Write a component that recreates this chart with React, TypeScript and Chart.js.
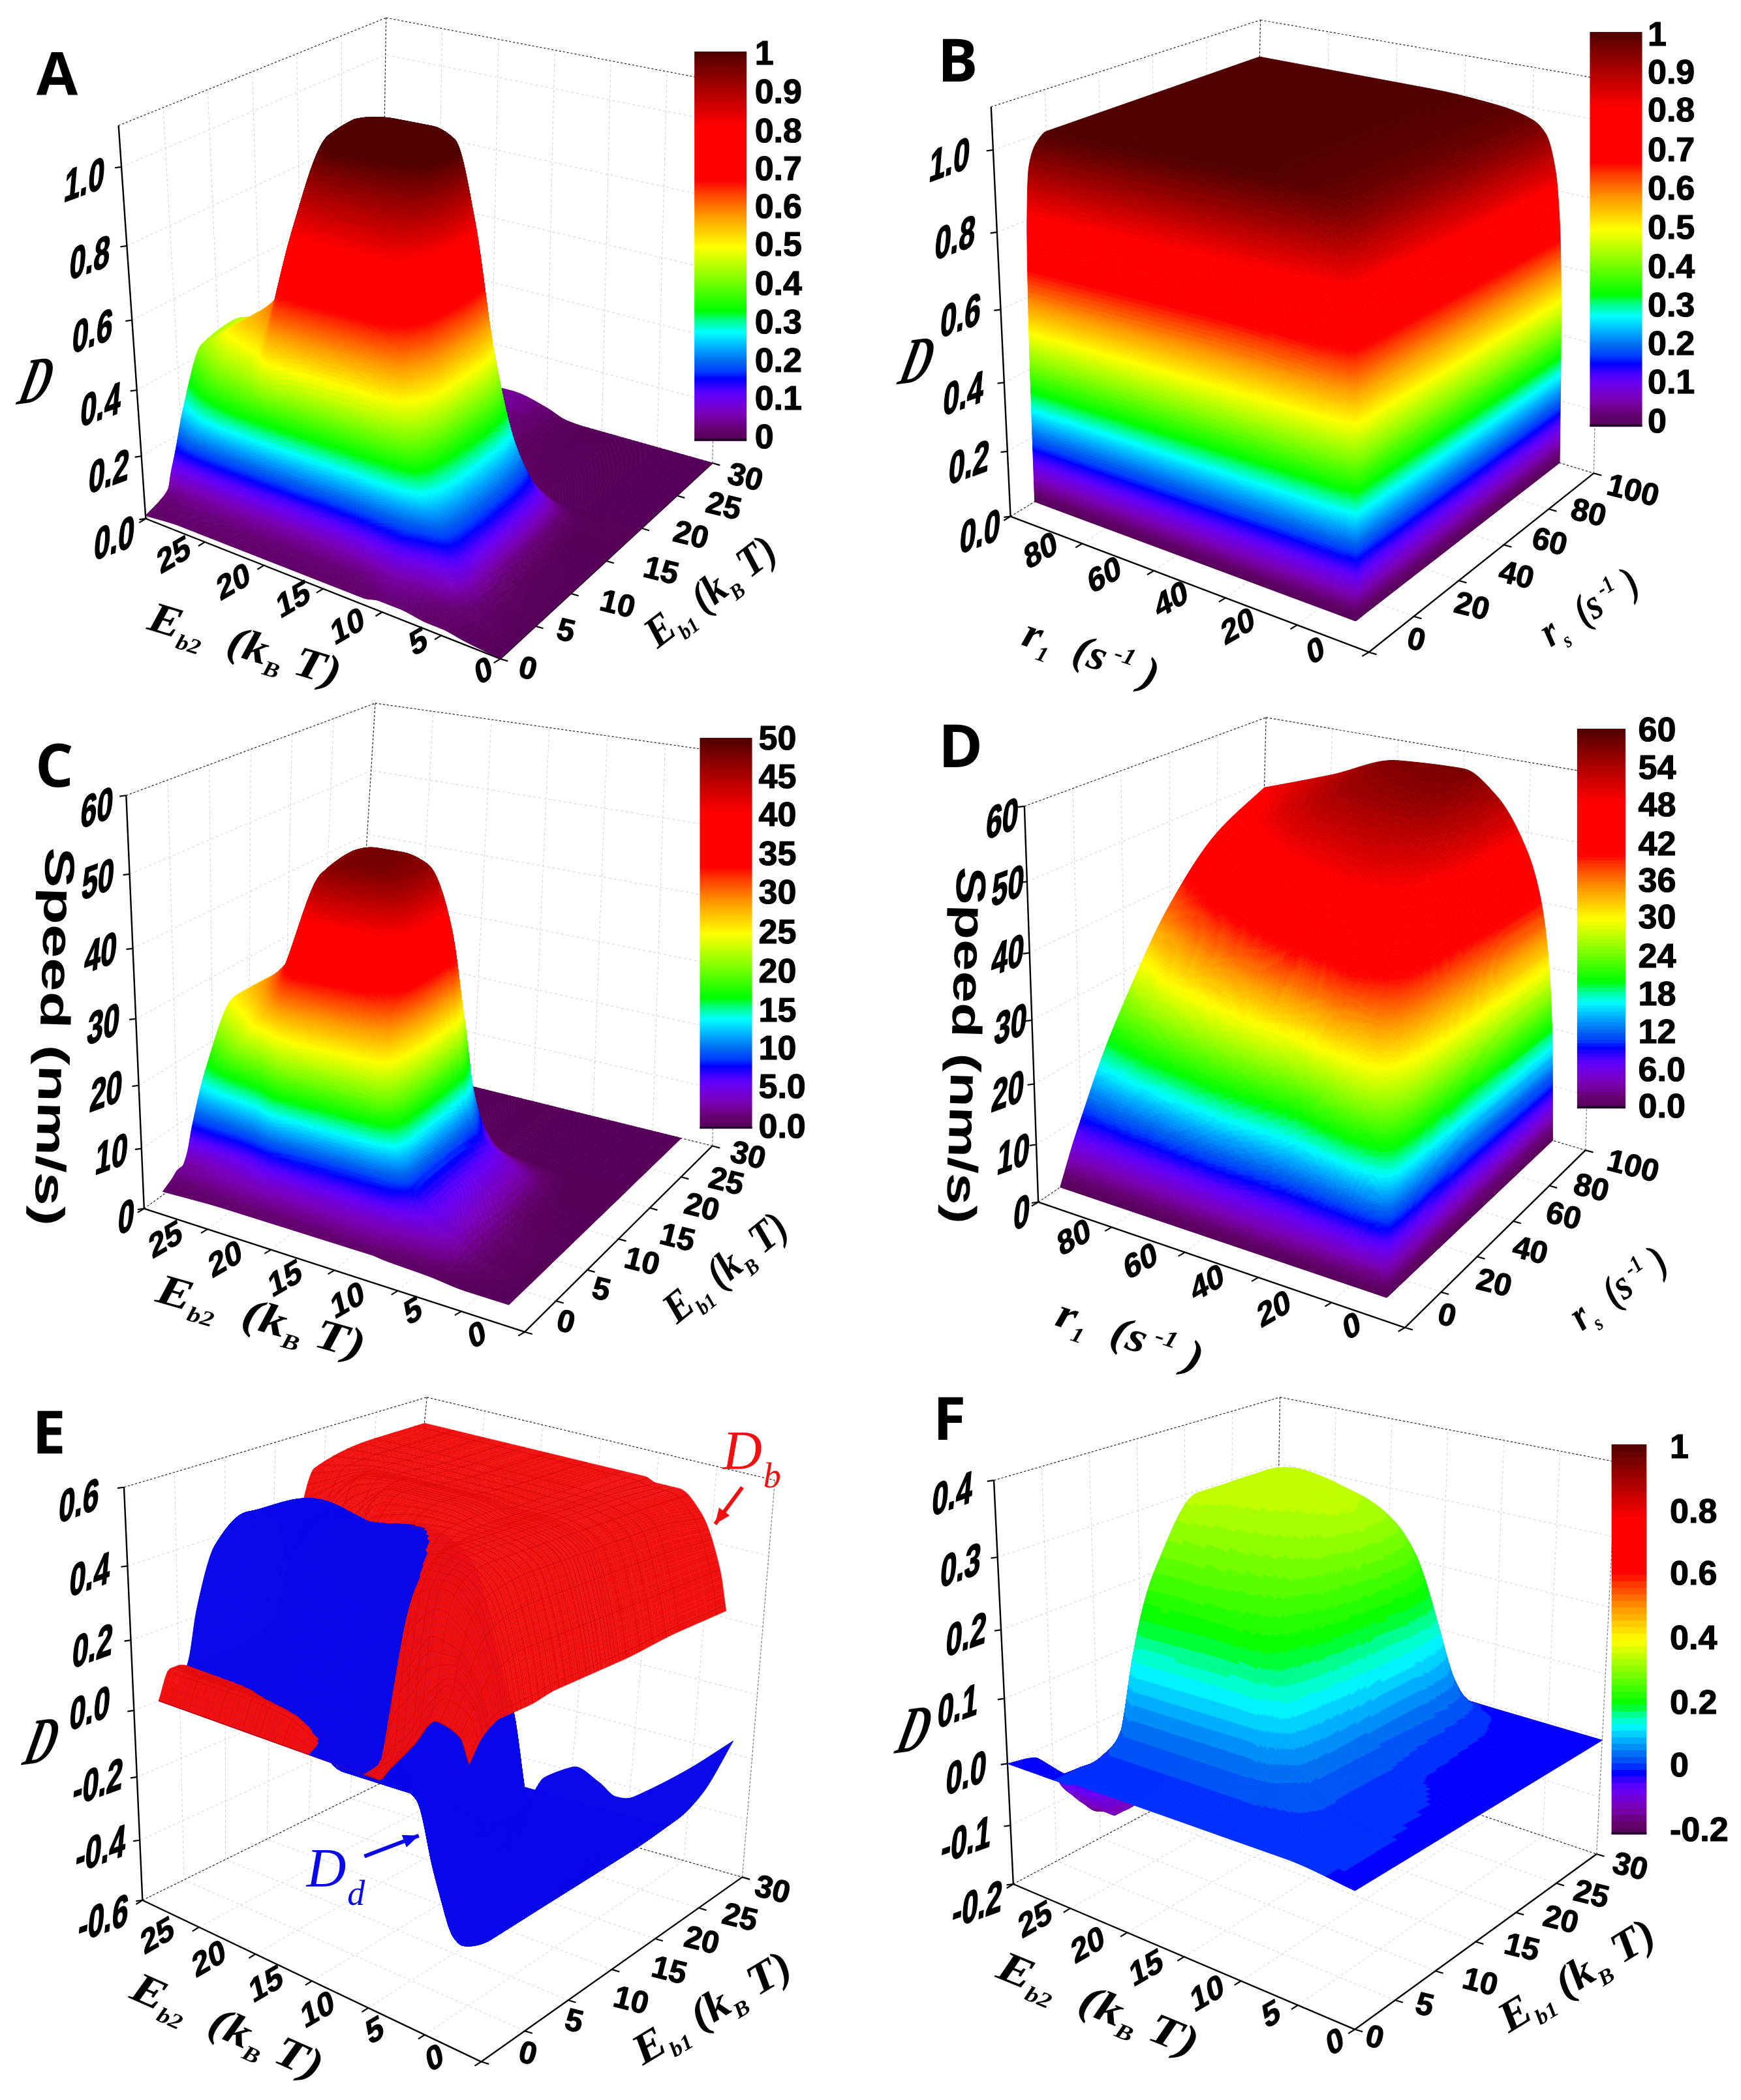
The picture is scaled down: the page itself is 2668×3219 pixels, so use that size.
import React, { useEffect, useRef } from "react";
import { Chart, registerables } from "chart.js";
Chart.register(...registerables);

// ---------- data ----------
const A_E1 = [0, 2, 3, 3.4, 4.1, 5.5, 8, 12, 15, 17, 20, 30];
const A_E2 = [0, 3, 5, 6, 8.6, 10.2, 11.6, 13.2, 15, 18, 21.5, 23.5, 27, 30];
const A_D = [
  [0, 0, 0, 0, 0, 0, 0, 0, 0, 0, 0, 0],
  [.01, .015, .02, .02, .02, .015, .01, .005, 0, 0, 0, 0],
  [.02, .03, .04, .05, .06, .06, .05, .04, .03, .02, 0, 0],
  [.02, .035, .07, .09, .12, .13, .13, .12, .10, .06, .005, 0],
  [.03, .05, .1, .15, .25, .3, .33, .34, .30, .15, .01, 0],
  [.03, .06, .14, .2, .38, .5, .6, .62, .55, .28, .015, 0],
  [.02, .05, .12, .19, .44, .62, .76, .88, .85, .42, .02, 0],
  [.02, .04, .1, .17, .46, .66, .86, 1.0, 1.03, .65, .02, .005],
  [.02, .04, .08, .15, .46, .67, .87, 1.03, 1.05, .68, .02, .03],
  [.02, .04, .07, .14, .46, .67, .87, 1.04, 1.05, .66, .02, .055],
  [.02, .04, .07, .14, .44, .65, .85, 1.02, 1.03, .55, .02, .05],
  [.02, .04, .07, .13, .38, .5, .62, .68, .65, .35, .03, .04],
  [.02, .04, .06, .11, .28, .42, .52, .5, .42, .25, .05, .04],
  [.01, .03, .05, .09, .15, .28, .43, .45, .38, .2, .05, .04],
];

const B_R1 = [10, 10.3, 10.7, 11.5, 13, 16, 20, 30, 50, 100];
const B_RS = [10, 10.3, 10.7, 11.5, 13, 16, 20, 30, 50, 100];
const B_D = [
  [0, 0, 0, 0, 0, 0, 0, 0, 0, 0],
  [0, .13, .21, .28, .33, .34, .35, .35, .35, .35],
  [0, .21, .33, .44, .51, .54, .55, .55, .55, .55],
  [0, .27, .43, .58, .67, .71, .72, .72, .72, .72],
  [0, .32, .51, .68, .79, .83, .85, .85, .85, .85],
  [0, .36, .56, .75, .87, .92, .94, .94, .94, .94],
  [0, .37, .58, .78, .9, .95, .97, .97, .97, .97],
  [0, .38, .59, .79, .92, .97, .99, .99, .99, .99],
  [0, .38, .6, .8, .93, .98, 1, 1, 1, 1],
  [0, .38, .6, .8, .93, .98, 1, 1, 1, 1],
];

const C_E1 = [2.7, 4, 5, 5.5, 6.2, 7, 9, 13, 17, 19.5, 22, 30];
const C_E2 = [2.6, 6, 9, 12.5, 13.5, 14.5, 15.3, 17, 19, 21, 23, 25, 30];
const C_V = [
  [0, 0, 0, 0, 0, 0, 0, 0, 0, 0, 0, 0],
  [0, .5, .8, 1, 1, 1, 1, .5, .2, 0, 0, 0],
  [.5, 2, 3, 3.5, 3.8, 4, 4, 3.5, 3, 1.5, 0, 0],
  [.8, 2.5, 4, 5.5, 7, 8.5, 9, 9, 8, 4, .3, 0],
  [1, 2.8, 4.5, 6.5, 8.5, 13, 15, 15, 13, 7, .4, 0],
  [1, 2.8, 4.5, 6.5, 9, 18, 24, 28, 26, 14, .5, 0],
  [1, 2.8, 4.5, 6.5, 9, 20, 30, 40, 40, 25, .6, 0],
  [1, 2.8, 4.5, 6.5, 9, 20, 33, 47, 47, 32, .6, 0],
  [1, 2.5, 4.3, 6.3, 9, 20, 34, 48, 48, 33, .5, 0],
  [1, 2.5, 4, 6, 9, 20, 34, 48, 48, 32, .5, 0],
  [1, 2.5, 4, 5.8, 8.5, 19, 33, 46, 47, 28, .5, 0],
  [1, 2.2, 3.6, 4.5, 6, 12, 28, 34, 33, 18, .5, 0],
  [.6, 1.6, 2.5, 2.5, 4, 8, 16, 25, 25, 9, .4, 0],
];

const D_R1 = [10, 11, 13, 16, 20, 30, 40, 60, 80, 100];
const D_RS = [10, 11, 13, 16, 20, 30, 40, 60, 80, 100];
const D_V = [
  [0, 0, 0, 0, 0, 0, 0, 0, 0, 0],
  [0, 5, 10, 13, 15, 17, 17.5, 18, 18, 18],
  [0, 6, 13, 18, 22, 27, 29, 31, 32, 32],
  [0, 6, 13, 20, 26, 34, 37, 39, 41, 41],
  [0, 5, 12, 20, 28, 38, 43, 46, 47, 47],
  [0, 4, 9, 16, 24, 40, 46, 51, 54, 54.5],
  [0, 3.5, 7, 13, 19, 36, 46, 52, 56, 57.5],
  [0, 2.5, 6, 11, 17, 30, 40, 50, 55, 57],
  [0, 1.5, 4, 8, 13, 24, 33, 45, 51, 53],
  [0, 1, 3, 6, 9.5, 18, 25, 37, 45, 49],
];

const E_A = [2.7, 4, 5, 6, 7, 9, 12, 15, 17, 19, 25, 30];
const EB_B = [3.2, 4, 6, 8, 10, 11, 12, 13, 15, 20, 24, 30];
const EB_V = [
  [.12, .17, .19, .2, .2, .2, .21, .21, .21, .21, .22, .22],
  [.18, .23, .27, .3, .31, .33, .33, .33, .33, .33, .33, .33],
  [.2, .26, .36, .43, .46, .48, .49, .49, .49, .49, .49, .47],
  [.12, .18, .38, .47, .5, .52, .52, .52, .52, .52, .52, .52],
  [.04, .08, .3, .45, .5, .53, .53, .53, .53, .53, .53, .52],
  [0, .05, .25, .4, .46, .5, .53, .53, .53, .53, .53, .53],
  [0, .01, .12, .25, .35, .45, .53, .53, .53, .53, .53, .53],
  [0, 0, .05, .1, .2, .42, .53, .54, .54, .53, .53, .53],
  [0, 0, .05, .06, .12, .3, .52, .55, .55, .54, .53, .53],
  [0, .07, .07, .07, .08, .15, .45, .55, .55, .54, .53, .53],
  [0, .08, .08, .07, .07, .08, .15, .42, .54, .54, .53, .53],
  [0, .08, .08, .07, .07, .07, .08, .1, .3, .5, .53, .53],
];
const ED_B = [1.7, 4, 6, 7, 8, 9, 11, 13, 15, 20, 24, 30];
const ED_V = [
  [0, -.02, -.03, -.03, -.02, .03, .02, -.06, -.13, -.16, -.17, -.16],
  [0, -.05, -.12, -.18, -.2, -.2, -.22, -.28, -.32, -.35, -.36, -.36],
  [0, -.1, -.28, -.42, -.46, -.48, -.48, -.48, -.48, -.48, -.48, -.47],
  [0, -.1, -.3, -.44, -.48, -.5, -.5, -.5, -.5, -.5, -.5, -.5],
  [0, -.08, -.25, -.35, -.4, -.45, -.48, -.48, -.5, -.5, -.5, -.5],
  [0, -.03, -.1, -.15, -.2, -.25, -.3, -.35, -.45, -.5, -.5, -.5],
  [0, 0, .05, .1, .12, .15, .15, .12, .05, -.25, -.5, -.5],
  [0, .01, .2, .35, .4, .45, .5, .42, .2, -.2, -.5, -.5],
  [0, .03, .3, .42, .48, .52, .52, .44, .25, -.2, -.5, -.5],
  [0, .03, .25, .4, .48, .53, .5, .44, .25, -.2, -.5, -.5],
  [0, .03, .08, .2, .33, .46, .52, .45, .25, -.2, -.5, -.5],
  [0, .02, .03, .08, .22, .38, .44, .4, .2, -.2, -.5, -.5],
];

const F_E1 = [0, 3, 5, 6, 7, 8, 10, 14, 18, 21, 25, 27.5, 29, 30];
const F_E2 = [0, 6, 8, 10, 11, 12, 14, 18, 22, 24, 25, 26, 27, 30];
const F_D = [
  [-.005, -.005, -.005, -.005, -.005, -.005, -.005, -.005, -.005, -.005, -.005, -.005, -.005, -.005],
  [.005, .008, .01, .012, .012, .01, .008, .005, -.002, -.003, -.005, -.005, -.005, -.005],
  [.005, .01, .018, .02, .022, .022, .022, .022, .015, .01, .005, -.002, -.005, -.005],
  [.005, .01, .022, .03, .035, .045, .05, .05, .05, .05, .04, .02, -.002, -.005],
  [.005, .01, .025, .035, .045, .08, .1, .12, .14, .14, .1, .03, .005, -.005],
  [.005, .012, .028, .04, .07, .15, .18, .24, .28, .27, .18, .06, .008, -.005],
  [.005, .012, .03, .045, .1, .2, .25, .31, .34, .33, .26, .09, .01, -.005],
  [.005, .012, .03, .045, .1, .21, .27, .33, .35, .35, .3, .12, .01, -.005],
  [.005, .012, .03, .045, .1, .21, .28, .34, .36, .36, .32, .13, .01, -.005],
  [.005, .012, .03, .045, .1, .21, .28, .35, .35, .35, .3, .11, .01, -.005],
  [0, .005, .02, .03, .06, .15, .2, .26, .26, .22, .14, .05, .005, -.005],
  [0, 0, -.005, -.005, 0, .02, .03, .04, .04, .03, .02, .01, 0, -.005],
  [0, -.02, -.06, -.08, -.1, -.12, -.12, -.1, -.08, -.07, -.05, -.03, -.01, -.005],
  [0, -.01, -.05, -.08, -.1, -.12, -.15, -.14, -.1, -.09, -.07, -.04, -.01, -.005],
];

const E_TICKS_A = [0, 5, 10, 15, 20, 25, 30];
const R_TICKS = [0, 20, 40, 60, 80, 100];

// ---------- colours ----------
const CMAP: [number, string][] = [
  [0, "#560058"], [.03, "#660070"], [.07, "#7c00b8"], [.11, "#6a00f0"], [.13, "#5000ff"], [.16, "#0000ff"], [.18, "#0040ff"],
  [.2, "#0060f0"], [.24, "#00aaff"], [.28, "#00ffff"], [.31, "#00ff88"], [.335, "#00ff00"], [.42, "#88ff00"],
  [.5, "#ffff00"], [.58, "#ff9900"], [.645, "#ff3300"], [.67, "#ff0000"], [.81, "#ff0000"], [.88, "#c00000"],
  [.95, "#800000"], [1, "#500000"],
];
const hex = (s: string) => [1, 3, 5].map((i) => parseInt(s.slice(i, i + 2), 16));
function makeLut(levels: number) {
  const out: string[] = [];
  for (let i = 0; i < levels; i++) {
    const t = (i + .5) / levels;
    let k = 0;
    while (k < CMAP.length - 2 && CMAP[k + 1][0] < t) k++;
    const f = (t - CMAP[k][0]) / (CMAP[k + 1][0] - CMAP[k][0]);
    const a = hex(CMAP[k][1]), b = hex(CMAP[k + 1][1]);
    out.push(`rgb(${a.map((v, n) => Math.round(v + (b[n] - v) * f)).join(",")})`);
  }
  return out;
}

// ---------- smooth shading between table nodes ----------
function pchip(xs: number[], ys: number[]) {
  const n = xs.length;
  const h: number[] = [], d: number[] = [];
  for (let i = 0; i < n - 1; i++) { h.push(xs[i + 1] - xs[i]); d.push((ys[i + 1] - ys[i]) / h[i]); }
  const m = new Array(n).fill(0);
  m[0] = d[0]; m[n - 1] = d[n - 2];
  for (let i = 1; i < n - 1; i++) {
    if (d[i - 1] * d[i] > 0) {
      const w1 = 2 * h[i] + h[i - 1], w2 = h[i] + 2 * h[i - 1];
      m[i] = (w1 + w2) / (w1 / d[i - 1] + w2 / d[i]);
    }
  }
  return (x: number) => {
    let i = 0;
    while (i < n - 2 && xs[i + 1] < x) i++;
    const t = (x - xs[i]) / h[i], t2 = t * t, t3 = t2 * t;
    return (2 * t3 - 3 * t2 + 1) * ys[i] + (t3 - 2 * t2 + t) * h[i] * m[i] + (-2 * t3 + 3 * t2) * ys[i + 1] + (t3 - t2) * h[i] * m[i + 1];
  };
}
// finer shading steps where the table climbs fast
function refine(g: number[], jump: (i: number) => number, gain: number, lo: number, hi: number) {
  const o: number[] = [];
  for (let i = 0; i < g.length - 1; i++) {
    const m = Math.max(lo, Math.min(hi, Math.ceil(jump(i) * gain)));
    for (let k = 0; k < m; k++) o.push(g[i] + (g[i + 1] - g[i]) * k / m);
  }
  o.push(g[g.length - 1]);
  return o;
}
function sample(ga: number[], gb: number[], tab: number[][], fa: number[], fb: number[]) {
  const rows = tab.map((r) => { const f = pchip(ga, r); return fa.map(f); });
  const cols = fa.map((_, i) => { const f = pchip(gb, rows.map((r) => r[i])); return fb.map(f); });
  return cols; // cols[ia][ib]
}

// ---------- panels (positions are in each panel's own 1560 x 1568 scale space) ----------
type Pt = [number, number];
type Panel = any;
const EB1 = [{ t: "E", s: 1 }, { t: "b1", s: .5, sub: 1 }, { t: " (", s: 1 }, { t: "k", s: 1 }, { t: "B", s: .5, sub: 1 }, { t: " T", s: 1 }, { t: ")", s: 1 }];
const EB2 = [{ t: "E", s: 1 }, { t: "b2", s: .5, sub: 1 }, { t: "  (", s: 1 }, { t: "k", s: 1 }, { t: "B", s: .5, sub: 1 }, { t: " T", s: 1 }, { t: ")", s: 1 }];
const R1T = [{ t: "r", s: 1 }, { t: "1", s: .5, sub: 1 }, { t: "  (s", s: 1 }, { t: " -1", s: .55, sup: 1 }, { t: " )", s: 1 }];
const RST = [{ t: "r", s: 1 }, { t: "s", s: .5, sub: 1 }, { t: "  (s", s: 1 }, { t: " -1", s: .55, sup: 1 }, { t: " )", s: 1 }];

const PANELS: Panel[] = [
  {
    key: "A", left: 0, top: 0, w: 1300, h: 1070,
    O: [920, 1480], L: [268, 1165], R: [1310, 1040], B: [700, 830], Lt: [218, 282], Rt: [1330, 185], Bt: [710, 40],
    amin: 0, amax: 30, bmin: 0, bmax: 30, zmin: 0, zmax: 1.1,
    ta: E_TICKS_A, tb: E_TICKS_A, tz: [0, .2, .4, .6, .8, 1],
    surfaces: [{ ga: A_E1, gb: A_E2, tab: A_D }], cmin: 0, cmax: 1, levels: 400,
    cb: [1277, 117, 1373, 990], cbLabels: [["1", 118], ["0.9", 205], ["0.8", 292], ["0.7", 378], ["0.6", 463], ["0.5", 548], ["0.4", 635], ["0.3", 722], ["0.2", 808], ["0.1", 893], ["0", 980]], cbX: 1388,
    zl: [["0.0", 210, 1215], ["0.2", 200, 1065], ["0.4", 185, 915], ["0.6", 170, 750], ["0.8", 165, 585], ["1.0", 155, 410]],
    bl: [["25", 320, 1250], ["20", 430, 1310], ["15", 540, 1350], ["10", 640, 1410], ["5", 770, 1445], ["0", 890, 1510]],
    al: [["0", 970, 1505], ["5", 1040, 1420], ["10", 1135, 1360], ["15", 1215, 1285], ["20", 1270, 1205], ["25", 1330, 1140], ["30", 1370, 1075]],
    bTitle: [EB2, 275, 1385, 625, 1515], aTitle: [EB1, 1195, 1435, 1420, 1225],
    zTitle: ["D", 65, 865], letter: ["A", 105, 175],
  },
  {
    key: "B", left: 1340, top: 0, w: 1328, h: 1070,
    O: [890, 1465], L: [245, 1160], R: [1295, 1063], B: [680, 830], Lt: [210, 240], Rt: [1310, 178], Bt: [695, 45],
    amin: 0, amax: 100, bmin: 0, bmax: 100, zmin: 0, zmax: 1.1,
    ta: R_TICKS, tb: R_TICKS, tz: [0, .2, .4, .6, .8, 1],
    surfaces: [{ ga: B_RS, gb: B_R1, tab: B_D }], cmin: 0, cmax: 1, levels: 400,
    cb: [1288, 72, 1382, 958], cbLabels: [["1", 75], ["0.9", 160], ["0.8", 245], ["0.7", 335], ["0.6", 422], ["0.5", 510], ["0.4", 597], ["0.3", 683], ["0.2", 770], ["0.1", 857], ["0", 945]], cbX: 1392,
    zl: [["0.0", 190, 1200], ["0.2", 170, 1045], ["0.4", 160, 890], ["0.6", 155, 715], ["0.8", 145, 540], ["1.0", 135, 365]],
    bl: [["80", 300, 1240], ["60", 415, 1295], ["40", 535, 1350], ["20", 655, 1410], ["0", 795, 1465]],
    al: [["0", 975, 1440], ["20", 1075, 1365], ["40", 1155, 1295], ["60", 1215, 1220], ["80", 1285, 1155], ["100", 1365, 1105]],
    bTitle: [R1T, 270, 1420, 510, 1520], aTitle: [RST, 1205, 1430, 1370, 1300],
    zTitle: ["D", 75, 820], letter: ["B", 150, 145],
  },
  {
    key: "C", left: 0, top: 1070, w: 1300, h: 1040,
    O: [965, 1465], L: [265, 1180], R: [1310, 1035], B: [650, 830], Lt: [232, 225], Rt: [1330, 125], Bt: [690, 12],
    amin: 0, amax: 30, bmin: 0, bmax: 30, zmin: 0, zmax: 60,
    ta: E_TICKS_A, tb: E_TICKS_A, tz: [0, 10, 20, 30, 40, 50, 60],
    surfaces: [{ ga: C_E1, gb: C_E2, tab: C_V }], cmin: 0, cmax: 50, levels: 400,
    cb: [1287, 92, 1383, 995], cbLabels: [["50", 92], ["45", 180], ["40", 268], ["35", 358], ["30", 448], ["25", 540], ["20", 630], ["15", 720], ["10", 808], ["5.0", 897], ["0.0", 988]], cbX: 1395,
    zl: [["0", 232, 1205], ["10", 205, 1060], ["20", 195, 915], ["30", 190, 760], ["40", 185, 595], ["50", 180, 425], ["60", 178, 260]],
    bl: [["25", 305, 1255], ["20", 415, 1300], ["15", 525, 1345], ["10", 640, 1395], ["5", 760, 1420], ["0", 878, 1475]],
    al: [["0", 1040, 1445], ["5", 1105, 1370], ["10", 1180, 1305], ["15", 1245, 1250], ["20", 1290, 1180], ["25", 1335, 1120], ["30", 1375, 1060]],
    bTitle: [EB2, 290, 1365, 670, 1500], aTitle: [EB1, 1230, 1425, 1440, 1210],
    speed: [95, 345, 1220], letter: ["C", 100, 165],
  },
  {
    key: "D", left: 1340, top: 1070, w: 1328, h: 1040,
    O: [955, 1455], L: [295, 1165], R: [1280, 1045], B: [690, 820], Lt: [270, 250], Rt: [1300, 175], Bt: [705, 45],
    amin: 0, amax: 100, bmin: 0, bmax: 100, zmin: 0, zmax: 60,
    ta: R_TICKS, tb: R_TICKS, tz: [0, 10, 20, 30, 40, 50, 60],
    surfaces: [{ ga: D_RS, gb: D_R1, tab: D_V }], cmin: 0, cmax: 60, levels: 110,
    cb: [1265, 72, 1352, 948], cbLabels: [["60", 72], ["54", 160], ["48", 245], ["42", 335], ["36", 420], ["30", 505], ["24", 595], ["18", 682], ["12", 770], ["6.0", 857], ["0.0", 942]], cbX: 1375,
    zl: [["0", 265, 1195], ["10", 250, 1060], ["20", 240, 915], ["30", 245, 760], ["40", 240, 600], ["50", 240, 440], ["60", 230, 285]],
    bl: [["80", 360, 1250], ["60", 480, 1305], ["40", 600, 1355], ["20", 720, 1415], ["0", 860, 1455]],
    al: [["0", 1030, 1430], ["20", 1115, 1355], ["40", 1180, 1280], ["60", 1240, 1200], ["80", 1290, 1135], ["100", 1365, 1085]],
    bTitle: [R1T, 330, 1420, 590, 1530], aTitle: [RST, 1260, 1440, 1420, 1290],
    speed: [160, 390, 1215], letter: ["D", 155, 120],
  },
  {
    key: "E", left: 0, top: 2110, w: 1300, h: 1109, gain: 50, hi: 14, lo: 5,
    O: [885, 1485], L: [262, 1135], R: [1365, 1085], B: [720, 870], Lt: [228, 240], Rt: [1425, 225], Bt: [785, 45],
    amin: 0, amax: 30, bmin: 0, bmax: 30, zmin: -.6, zmax: .6,
    ta: E_TICKS_A, tb: E_TICKS_A, tz: [-.6, -.4, -.2, 0, .2, .4, .6],
    surfaces: [{ ga: E_A, gb: ED_B, tab: ED_V, color: "#0808e8" }, { ga: E_A, gb: EB_B, tab: EB_V, color: "#f01010", mesh: "#b80808" }],
    zl: [["-0.6", 190, 1180], ["-0.4", 185, 1030], ["-0.2", 180, 885], ["0.0", 165, 725], ["0.2", 170, 590], ["0.4", 165, 435], ["0.6", 145, 275]],
    bl: [["25", 290, 1215], ["20", 385, 1265], ["15", 490, 1320], ["10", 585, 1375], ["5", 690, 1420], ["0", 800, 1480]],
    al: [["0", 970, 1470], ["5", 1055, 1400], ["10", 1160, 1355], ["15", 1230, 1290], ["20", 1290, 1225], ["25", 1360, 1175], ["30", 1420, 1115]],
    bTitle: [EB2, 245, 1320, 590, 1500], aTitle: [EB1, 1170, 1470, 1450, 1270],
    zTitle: ["D", 75, 800], letter: ["E", 90, 130],
    notes: [{ t: "D", sub: "b", x: 1365, y: 170, c: "#f01010", from: [1365, 240], to: [1315, 320] }, { t: "D", sub: "d", x: 600, y: 1075, c: "#0808e8", from: [670, 1040], to: [770, 995] }],
  },
  {
    key: "F", left: 1340, top: 2110, w: 1328, h: 1109, lo: 12,
    O: [865, 1415], L: [250, 1100], R: [1300, 1035], B: [720, 800], Lt: [215, 225], Rt: [1335, 185], Bt: [730, 45],
    amin: 0, amax: 30, bmin: 0, bmax: 30, zmin: -.2, zmax: .4,
    ta: E_TICKS_A, tb: E_TICKS_A, tz: [-.2, -.1, 0, .1, .2, .3, .4],
    surfaces: [{ ga: F_E1, gb: F_E2, tab: F_D }], cmin: -.2, cmax: 1, levels: 60,
    cb: [1327, 148, 1390, 992], cbLabels: [["1", 150], ["0.8", 290], ["0.6", 425], ["0.4", 565], ["0.2", 705], ["0", 840], ["-0.2", 980]], cbX: 1432,
    zl: [["-0.2", 185, 1150], ["-0.1", 165, 1010], ["0.0", 165, 865], ["0.1", 150, 720], ["0.2", 165, 565], ["0.3", 155, 415], ["0.4", 140, 260]],
    bl: [["25", 290, 1180], ["20", 385, 1235], ["15", 490, 1285], ["10", 600, 1340], ["5", 715, 1385], ["0", 830, 1445]],
    al: [["0", 900, 1435], ["5", 990, 1365], ["10", 1090, 1315], ["15", 1165, 1240], ["20", 1235, 1180], ["25", 1290, 1125], ["30", 1360, 1065]],
    bTitle: [EB2, 225, 1275, 580, 1450], aTitle: [EB1, 1130, 1400, 1400, 1200],
    zTitle: ["D", 70, 775], letter: ["F", 135, 100],
  },
];

// ---------- projection ----------
function projector(p: Panel) {
  const hL = p.L[1] - p.Lt[1], hR = p.R[1] - p.Rt[1];
  const Ot: Pt = [p.O[0], p.O[1] - (hL + hR) / 2 * 1.2];
  const bil = (A: Pt, Rr: Pt, Ll: Pt, Bb: Pt, u: number, v: number): Pt => [
    A[0] * (1 - u) * (1 - v) + Rr[0] * u * (1 - v) + Ll[0] * (1 - u) * v + Bb[0] * u * v,
    A[1] * (1 - u) * (1 - v) + Rr[1] * u * (1 - v) + Ll[1] * (1 - u) * v + Bb[1] * u * v,
  ];
  const k = .85;
  return (a: number, b: number, z: number): Pt => {
    const u = (a - p.amin) / (p.amax - p.amin), v = (b - p.bmin) / (p.bmax - p.bmin);
    const t = (z - p.zmin) / (p.zmax - p.zmin);
    const w = t * k / (1 + (k - 1) * t);
    const f = bil(p.O, p.R, p.L, p.B, u, v), g = bil(Ot, p.Rt, p.Lt, p.Bt, u, v);
    return [f[0] + (g[0] - f[0]) * w, f[1] + (g[1] - f[1]) * w];
  };
}

function makePlugin(p: Panel) {
  const P = projector(p);
  const lut = p.levels ? makeLut(p.levels) : [];
  return {
    id: "surface3d" + p.key,
    afterDatasetsDraw(chart: any) {
      const ctx: CanvasRenderingContext2D = chart.ctx;
      const sx = chart.scales.x, sy = chart.scales.y;
      const X = (v: number) => sx.getPixelForValue(v), Y = (v: number) => sy.getPixelForValue(v);
      const M = (q: Pt): Pt => [X(q[0]), Y(q[1])];
      const line = (a: Pt, b: Pt, col: string, w: number, dash: number[] = []) => {
        const m = M(a), n = M(b);
        ctx.beginPath(); ctx.setLineDash(dash); ctx.strokeStyle = col; ctx.lineWidth = w;
        ctx.moveTo(m[0], m[1]); ctx.lineTo(n[0], n[1]); ctx.stroke(); ctx.setLineDash([]);
      };
      const GRID = "#cfcfcf", gd = [4, 4];
      // wall and floor grids
      for (const a of p.ta) {
        line(P(a, p.bmax, p.zmin), P(a, p.bmax, p.zmax), GRID, 1, gd);
        line(P(a, p.bmin, p.zmin), P(a, p.bmax, p.zmin), GRID, 1, gd);
      }
      for (const b of p.tb) {
        line(P(p.amax, b, p.zmin), P(p.amax, b, p.zmax), GRID, 1, gd);
        line(P(p.amin, b, p.zmin), P(p.amax, b, p.zmin), GRID, 1, gd);
      }
      for (const z of p.tz) {
        line(P(p.amin, p.bmax, z), P(p.amax, p.bmax, z), GRID, 1, gd);
        line(P(p.amax, p.bmin, z), P(p.amax, p.bmax, z), GRID, 1, gd);
      }
      // box
      const K = "#222";
      line(p.Lt, p.Bt, K, 1.2, [3, 3]); line(p.Bt, p.Rt, K, 1.2, [3, 3]); line(p.Bt, p.B, K, 1.2, [3, 3]);
      line(p.L, p.B, K, 1.2, [3, 3]); line(p.B, p.R, K, 1.2, [3, 3]);
      line(p.R, p.Rt, "#777", 1.2, [3, 3]);
      line(p.L, p.Lt, "#000", 2.4); line(p.L, p.O, "#000", 2.4); line(p.O, p.R, "#000", 2.4);
      for (const z of p.tz) { const q = P(p.amin, p.bmax, z); line(q, [q[0] - 12, q[1] + 2], "#000", 2.2); }
      for (const b of p.tb) { const q = P(p.amin, b, p.zmin); line(q, [q[0] - 12, q[1] + 9], "#000", 2.2); }
      for (const a of p.ta) { const q = P(a, p.bmin, p.zmin); line(q, [q[0] + 14, q[1] + 5], "#000", 2.2); }

      // surfaces, painted from the far corner to the near corner
      const zr = p.zmax - p.zmin, gain = (p.gain || 130) / zr, lo = p.lo || 5, hi = p.hi || 45;
      const allA = Array.from(new Set<number>(p.surfaces.flatMap((s: any) =>
        refine(s.ga, (i) => Math.max(...s.tab.map((r: number[]) => Math.abs(r[i + 1] - r[i]))), gain, lo, hi)))).sort((x, y) => x - y);
      const allB = Array.from(new Set<number>(p.surfaces.flatMap((s: any) =>
        refine(s.gb, (j) => Math.max(...s.tab[j].map((v: number, n: number) => Math.abs(s.tab[j + 1][n] - v))), gain, lo, hi)))).sort((x, y) => x - y);
      const grids = p.surfaces.map((s: any) => {
        const z = sample(s.ga, s.gb, s.tab, allA, allB);
        return { s, z, pts: allA.map((a, i) => allB.map((b, j) => M(P(a, b, z[i][j])))) };
      });
      ctx.lineJoin = "round";
      for (let i = allA.length - 2; i >= 0; i--) {
        for (let j = allB.length - 2; j >= 0; j--) {
          const cells = grids
            .filter((g: any) => allA[i] >= g.s.ga[0] - 1e-9 && allB[j] >= g.s.gb[0] - 1e-9)
            .map((g: any) => ({ g, m: (g.z[i][j] + g.z[i + 1][j] + g.z[i][j + 1] + g.z[i + 1][j + 1]) / 4 }));
          if (cells.length > 1) cells.sort((c1: any, c2: any) => c1.m - c2.m);
          for (const c of cells) {
            const q = c.g.pts, mesh = c.g.s.mesh;
            ctx.beginPath();
            ctx.moveTo(q[i][j][0], q[i][j][1]); ctx.lineTo(q[i + 1][j][0], q[i + 1][j][1]);
            ctx.lineTo(q[i + 1][j + 1][0], q[i + 1][j + 1][1]); ctx.lineTo(q[i][j + 1][0], q[i][j + 1][1]);
            ctx.closePath();
            let col = c.g.s.color;
            if (!col) {
              const t = (c.m - p.cmin) / (p.cmax - p.cmin);
              col = lut[Math.max(0, Math.min(lut.length - 1, Math.floor(t * lut.length)))];
            }
            ctx.fillStyle = col; ctx.fill();
            ctx.strokeStyle = col; ctx.lineWidth = mesh ? .5 : 1; ctx.stroke();
            if (mesh) {
              ctx.strokeStyle = mesh; ctx.lineWidth = 1.3;
              if (i % 4 === 0) { ctx.beginPath(); ctx.moveTo(q[i][j][0], q[i][j][1]); ctx.lineTo(q[i][j + 1][0], q[i][j + 1][1]); ctx.stroke(); }
              if (j % 8 === 0) { ctx.beginPath(); ctx.moveTo(q[i][j][0], q[i][j][1]); ctx.lineTo(q[i + 1][j][0], q[i + 1][j][1]); ctx.stroke(); }
            }
          }
        }
      }

      // colour bar
      if (p.cb) {
        const [x0, y0, x1, y1] = p.cb;
        const top = Y(y0), bot = Y(y1);
        const hiLut = makeLut(p.levels);
        for (let y = Math.floor(top); y < bot; y++) {
          const t = 1 - (y - top) / (bot - top);
          ctx.fillStyle = hiLut[Math.max(0, Math.min(hiLut.length - 1, Math.floor(t * hiLut.length)))];
          ctx.fillRect(X(x0), y, X(x1) - X(x0), 1.2);
        }
        ctx.fillStyle = "#1a0020"; ctx.fillRect(X(x0), bot - 3, X(x1) - X(x0), 3);
        ctx.fillStyle = "#000"; ctx.strokeStyle = "#000"; ctx.lineWidth = 1.2;
        ctx.font = "bold 52px 'Liberation Sans'"; ctx.textAlign = "left"; ctx.textBaseline = "middle";
        for (const [s, y] of p.cbLabels) { ctx.fillText(s, X(p.cbX), Y(y + 6)); ctx.strokeText(s, X(p.cbX), Y(y + 6)); }
      }

      // text
      const text = (s: string, x: number, y: number, font: string, o: any = {}) => {
        const th = (o.th || 0) * Math.PI / 180, ph = (o.ph ?? o.th ?? 0) * Math.PI / 180;
        const fx = o.sx || 1, fy = o.sy || 1;
        ctx.save();
        ctx.translate(X(x), Y(y));
        ctx.transform(Math.cos(th) * fx, Math.sin(th) * fx, -Math.sin(ph) * fy, Math.cos(ph) * fy, 0, 0);
        ctx.font = font; ctx.fillStyle = o.c || "#000"; ctx.textAlign = "center"; ctx.textBaseline = "middle";
        ctx.fillText(s, 0, 0);
        if (o.heavy) { ctx.strokeStyle = o.c || "#000"; ctx.lineWidth = o.heavy; ctx.strokeText(s, 0, 0); }
        ctx.restore();
      };
      const sans = (n: number) => `bold ${n}px 'Liberation Sans'`;
      for (const [s, x, y] of p.zl) text(s, x, y, sans(56), { th: -20, ph: 5, sx: .84, sy: 1.25, heavy: 1.5 });
      for (const [s, x, y] of p.bl) text(s, x, y, sans(50), { th: -30, ph: -14, heavy: 1.2 });
      for (const [s, x, y] of p.al) text(s, x, y, sans(48), { th: 14, ph: 14, heavy: 1.2 });
      if (p.letter) text(p.letter[0], p.letter[1], p.letter[2], "bold 92px 'Open Sans'");
      if (p.zTitle) text(p.zTitle[0], p.zTitle[1], p.zTitle[2], "italic bold 100px 'Liberation Serif'", { th: -8, ph: 14, sx: .66, sy: 1.05 });
      if (p.speed) {
        const [cx, y0, y1] = p.speed;
        ctx.save();
        ctx.translate(X(cx), (Y(y0) + Y(y1)) / 2);
        ctx.rotate(Math.PI / 2 + .03);
        ctx.font = sans(64); ctx.textAlign = "center"; ctx.textBaseline = "middle"; ctx.fillStyle = "#000";
        const w = ctx.measureText("Speed (nm/s)").width;
        ctx.scale((Y(y1) - Y(y0)) / w, 1);
        ctx.fillText("Speed (nm/s)", 0, 0);
        ctx.restore();
      }
      for (const tt of [p.bTitle, p.aTitle]) {
        const [parts, x0, y0, x1, y1] = tt;
        const ax = X(x0), ay = Y(y0), bx = X(x1), by = Y(y1);
        const size = 66;
        const f = (s: number) => `italic bold ${size * s}px 'Liberation Serif'`;
        let tot = 0;
        for (const q of parts) { ctx.font = f(q.s); tot += ctx.measureText(q.t).width; }
        const len = Math.hypot(bx - ax, by - ay);
        ctx.save();
        ctx.translate(ax, ay); ctx.rotate(Math.atan2(by - ay, bx - ax)); ctx.scale(len / tot, 1);
        ctx.fillStyle = "#000"; ctx.textAlign = "left"; ctx.textBaseline = "alphabetic";
        let cur = 0;
        for (const q of parts) {
          ctx.font = f(q.s);
          ctx.fillText(q.t, cur, q.sub ? size * .52 : q.sup ? -size * .05 : size * .3);
          cur += ctx.measureText(q.t).width;
        }
        ctx.restore();
      }
      for (const n of p.notes || []) {
        text(n.t, n.x, n.y, "italic 84px 'Liberation Serif'", { c: n.c });
        text(n.sub, n.x + 55, n.y + 50, "italic 54px 'Liberation Serif'", { c: n.c });
        line(n.from, n.to, n.c, 6);
        const a = M(n.from), b = M(n.to), an = Math.atan2(b[1] - a[1], b[0] - a[0]);
        ctx.fillStyle = n.c; ctx.beginPath(); ctx.moveTo(b[0], b[1]);
        ctx.lineTo(b[0] - 26 * Math.cos(an - .4), b[1] - 26 * Math.sin(an - .4));
        ctx.lineTo(b[0] - 26 * Math.cos(an + .4), b[1] - 26 * Math.sin(an + .4)); ctx.closePath(); ctx.fill();
      }
    },
  };
}

function PanelChart({ p }: { p: Panel }) {
  const ref = useRef<HTMLCanvasElement | null>(null);
  useEffect(() => {
    document.body.style.margin = "0";
    document.body.style.background = "#fff";
    const P = projector(p);
    const datasets = p.surfaces.map((s: any, k: number) => ({
      label: `surface ${k + 1}`,
      data: s.gb.flatMap((b: number, j: number) => s.ga.map((a: number, i: number) => {
        const q = P(a, b, s.tab[j][i]);
        return { x: q[0], y: q[1] };
      })),
      pointRadius: 0, showLine: false,
    }));
    const chart = new Chart(ref.current as HTMLCanvasElement, {
      type: "scatter",
      data: { datasets },
      options: {
        animation: false, responsive: false, devicePixelRatio: 1,
        layout: { padding: 0 },
        plugins: { legend: { display: false }, tooltip: { enabled: false } },
        scales: {
          x: { type: "linear", display: false, min: 0, max: 1560 },
          y: { type: "linear", display: false, min: 0, max: 1568, reverse: true },
        },
      },
      plugins: [makePlugin(p)],
    } as any);
    return () => chart.destroy();
  }, [p]);
  return <canvas ref={ref} width={p.w} height={p.h} style={{ position: "absolute", left: p.left, top: p.top, width: p.w, height: p.h }} />;
}

export default function App() {
  return (
    <div style={{ position: "relative", width: 2668, height: 3219, background: "#fff", overflow: "hidden" }}>
      {PANELS.map((p) => <PanelChart key={p.key} p={p} />)}
    </div>
  );
}
